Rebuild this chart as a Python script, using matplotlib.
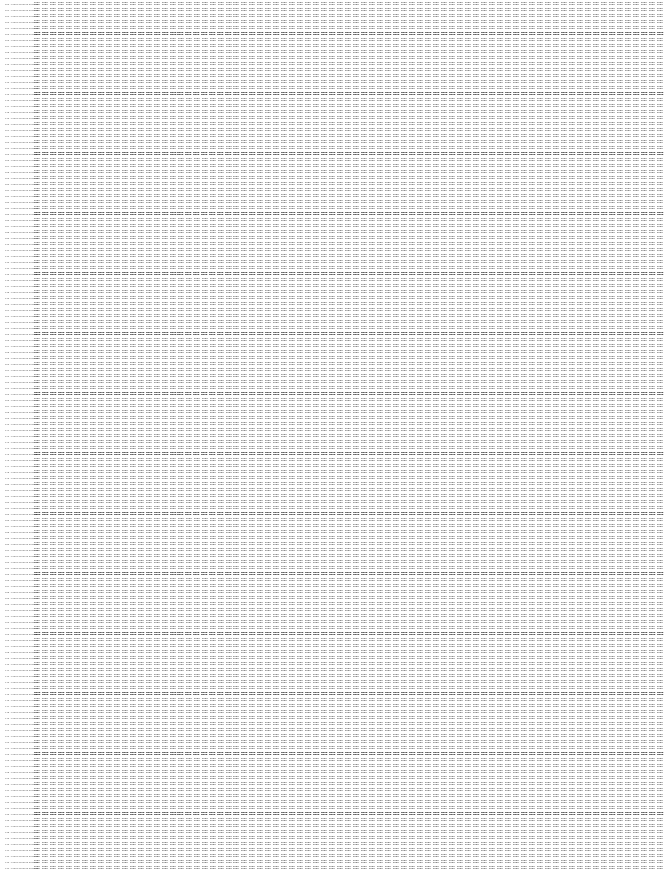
import matplotlib
matplotlib.use("Agg")
import matplotlib.pyplot as plt

# The reference is a very dense text table: about 145 rows x 79 columns,
# every cell holding two lines of tiny digits. The glyphs are far below
# legible size, so the cell values are estimated as uniform placeholders.
N_ROWS = 145
N_COLS = 79
row_ids = [f"{i:03d}" for i in range(N_ROWS)]
label_words = ["00000", "0000000", "0000000"]
cell_line1 = "0.000"
cell_line2 = "0.000"
band_rows = [5, 15, 25, 35, 45, 55, 65, 75, 85, 95, 105, 115, 125, 135]

W, H = 665, 871
fig = plt.figure(figsize=(W / 100, H / 100), dpi=100)
ax = fig.add_axes([0, 0, 1, 1])
ax.set_xlim(0, W)
ax.set_ylim(H, 0)
ax.axis("off")

ROW_PITCH = 6.0
TOP = 2.2
LEFT_CELLS = 33.5
COL_PITCH = (W - LEFT_CELLS) / N_COLS
FS = 1.7

cell = cell_line1 + "\n" + cell_line2
for r in range(N_ROWS):
    y = TOP + r * ROW_PITCH
    bold = r in band_rows
    lab = " ".join([row_ids[r], "-"] + label_words)
    ax.text(5, y + 2.0, lab, fontsize=1.5, color="#444444",
            va="center", ha="left")
    for c in range(N_COLS):
        ax.text(LEFT_CELLS + c * COL_PITCH, y, cell, fontsize=FS,
                color="black", va="top", ha="left", linespacing=1.85,
                fontweight="bold" if bold else "normal")

fig.savefig("out.png", dpi=100, facecolor="white")
